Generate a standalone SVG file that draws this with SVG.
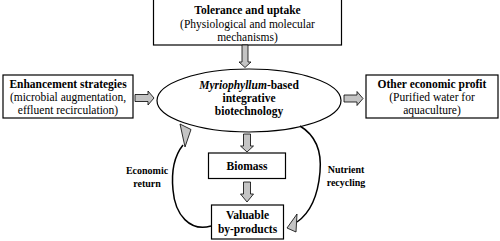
<svg xmlns="http://www.w3.org/2000/svg" width="500" height="241" viewBox="0 0 500 241">
<style>
.box{fill:#fff;stroke:#000;stroke-width:1.2}
.blk{fill:#c4c4c4;stroke:#000;stroke-width:0.8;stroke-linejoin:miter}
.t{font-family:"Liberation Serif","Times New Roman",serif;font-size:11.5px;text-anchor:middle;fill:#000}
.b{font-weight:bold}
.s{font-size:10px;font-weight:bold}
.cur{fill:none;stroke:#000;stroke-width:1.5}
</style>
<rect width="500" height="241" fill="#fff"/>
<g id="tolerance">
<rect class="box" x="153.5" y="-1" width="188" height="46"/>
<text class="t b" x="247.5" y="14">Tolerance and uptake</text>
<text class="t" x="247.5" y="27.5">(Physiological and molecular</text>
<text class="t" x="247.5" y="40.5">mechanisms)</text>
</g>
<g id="enhancement">
<rect class="box" x="3" y="75" width="130" height="43"/>
<text class="t b" x="68" y="88">Enhancement strategies</text>
<text class="t" x="68" y="101">(microbial augmentation,</text>
<text class="t" x="68" y="114">effluent recirculation)</text>
</g>
<g id="core">
<ellipse class="box" cx="249" cy="100.5" rx="92" ry="31.5"/>
<text class="t b" x="249" y="89"><tspan font-style="italic">Myriophyllum</tspan>-based</text>
<text class="t b" x="249" y="102">integrative</text>
<text class="t b" x="249" y="115">biotechnology</text>
</g>
<g id="other">
<rect class="box" x="366" y="75" width="132" height="43"/>
<text class="t b" x="432" y="88">Other economic profit</text>
<text class="t" x="432" y="101">(Purified water for</text>
<text class="t" x="432" y="114">aquaculture)</text>
</g>
<g id="biomass">
<rect class="box" x="208.5" y="153" width="77" height="25.5"/>
<text class="t b" x="247" y="170">Biomass</text>
</g>
<g id="valuable">
<rect class="box" x="211.5" y="205" width="72" height="34"/>
<text class="t b" x="247.5" y="219">Valuable</text>
<text class="t b" x="247.5" y="233">by-products</text>
</g>
<g id="connectors">
<polygon class="blk" points="242,45 248,45 248,62 251,62 245,67.5 239,62 242,62"/>
<polygon class="blk" points="135,94.5 148,94.5 148,91 154,98 148,105 148,101.5 135,101.5"/>
<polygon class="blk" points="344,95 357,95 357,91.5 363,98.5 357,105.5 357,102 344,102"/>
<polygon class="blk" points="243.5,134 250.5,134 250.5,146 253.5,146 247,152 240.5,146 243.5,146"/>
<polygon class="blk" points="243.5,182 250.5,182 250.5,194 253.5,194 247,202 240.5,194 243.5,194"/>
<path class="cur" d="M211,226 C190,232 175,215 173,190 C171,170 175,155 183,145"/>
<polygon class="blk" points="180,124 191,129.5 185,147"/>
<path class="cur" d="M300,126 C315,135 322,150 320,172 C318,195 310,213 297,222"/>
<polygon class="blk" points="287,228 297,214 296,232"/>
<text class="t s" x="147" y="174">Economic</text>
<text class="t s" x="147" y="187">return</text>
<text class="t s" x="346" y="173">Nutrient</text>
<text class="t s" x="346" y="186">recycling</text>
</g>
</svg>
